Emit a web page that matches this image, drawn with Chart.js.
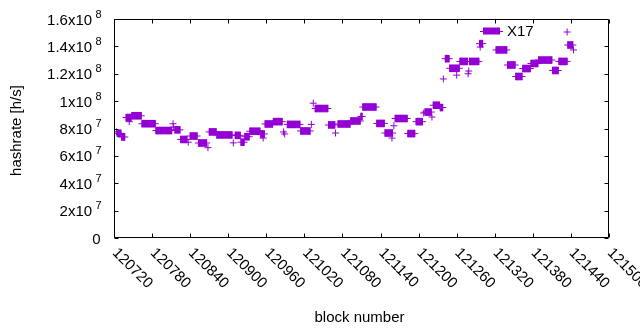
<!DOCTYPE html>
<html><head><meta charset="utf-8">
<script src="https://cdn.jsdelivr.net/npm/chart.js@4/dist/chart.umd.min.js"></script>
<style>html,body{margin:0;padding:0;background:#fff}#wrap{width:640px;height:330px}</style>
</head><body><div id="wrap"><canvas id="c" width="640" height="330"></canvas></div>
<script>
const seriesName = 'X17';
const xTitle = 'block number';
const yTitle = 'hashrate [h/s]';

// runs of consecutive blocks that share one hashrate estimate (h/s)
const runStartBlock = [120725,120732,120739,120748,120764,120786,120816,120825,120840,120853,120870,120882,120911,120920,120926,120934,120951,120958,120971,120993,121014,121037,121058,121073,121093,121109,121112,121134,121147,121163,121183,121196,121210,121223,121234,121242,121249,121265,121280,121296,121322,121340,121353,121364,121377,121389,121411,121421,121435];
const runEndBlock   = [120731,120737,120747,120763,120785,120811,120824,120835,120851,120866,120881,120906,120919,120925,120933,120950,120957,120970,120985,121013,121029,121057,121068,121092,121108,121111,121133,121146,121159,121182,121194,121206,121220,121233,121238,121248,121264,121277,121295,121301,121339,121352,121363,121376,121388,121410,121420,121434,121443];
const runHashrate   = [76.5e6,73.8e6,88e6,89.3e6,83.5e6,78.5e6,79e6,72e6,74.5e6,69.4e6,77.5e6,75.3e6,75e6,70e6,74e6,78e6,76e6,83.3e6,85e6,83e6,78.2e6,94.6e6,82.6e6,83.3e6,85.5e6,88.8e6,95.7e6,83.7e6,76.7e6,87.3e6,76.3e6,85e6,92e6,97e6,95.3e6,131e6,124e6,129e6,129e6,142e6,137.4e6,126.4e6,118e6,123.8e6,127.5e6,130e6,122.4e6,129e6,141e6];

// isolated blocks
const singleBlock    = [120724,120744,120813,120814,120837,120868,120908,120955,120987,120989,121031,121034,121069,121158,121161,121208,121221,121239,121260,121278,121279,121297,121434,121444];
const singleHashrate = [77.5e6,85e6,83.5e6,81e6,70e6,66e6,69.5e6,73e6,77.5e6,76e6,83e6,98.5e6,76.7e6,73e6,82e6,91.3e6,88.4e6,116.2e6,119e6,120e6,122e6,139.5e6,150.5e6,137.4e6];

const xTickValues = [120720,120780,120840,120900,120960,121020,121080,121140,121200,121260,121320,121380,121440,121500];
const xTickLabels = ['120720','120780','120840','120900','120960','121020','121080','121140','121200','121260','121320','121380','121440','121500'];
const yTickValues   = [0,2e7,4e7,6e7,8e7,1e8,1.2e8,1.4e8,1.6e8];
const yTickMantissa = ['0','2x10','4x10','6x10','8x10','1x10','1.2x10','1.4x10','1.6x10'];
const yTickExponent = ['','7','7','7','7','8','8','8','8'];

const COLOR = '#9400D3';
const FONT = '"Liberation Sans", Arial, sans-serif';

const runBars = runStartBlock.map((s, i) => ({ x: [s, runEndBlock[i]], y: runHashrate[i] }));
const crossPts = singleBlock.map((b, i) => ({ x: b, y: singleHashrate[i] }))
  .concat(runStartBlock.map((s, i) => ({ x: s, y: runHashrate[i] })))
  .concat(runEndBlock.map((e, i) => ({ x: e, y: runHashrate[i] })));

const gnuFrame = {
  id: 'gnuFrame',
  afterDatasetsDraw(chart) {
    const { ctx, chartArea: a, scales: { x, y } } = chart;
    ctx.save();
    ctx.strokeStyle = '#000';
    ctx.lineWidth = 1;
    const L = Math.round(a.left) + 0.5, R = Math.round(a.right) - 0.5;
    const T = Math.round(a.top) + 0.5, B = Math.round(a.bottom) - 0.5;
    ctx.beginPath();
    ctx.rect(L, T, R - L, B - T);
    xTickValues.forEach(v => {
      const px = Math.round(x.getPixelForValue(v)) + 0.5;
      ctx.moveTo(px, B); ctx.lineTo(px, B - 4);
      ctx.moveTo(px, T); ctx.lineTo(px, T + 4);
    });
    yTickValues.forEach(v => {
      const py = Math.round(y.getPixelForValue(v)) + 0.5;
      ctx.moveTo(L, py); ctx.lineTo(L + 4, py);
      ctx.moveTo(R, py); ctx.lineTo(R - 4, py);
    });
    ctx.stroke();

    ctx.fillStyle = '#000';
    // y tick labels with raised exponent
    yTickValues.forEach((v, i) => {
      const py = y.getPixelForValue(v);
      const right = a.left - 12.5;
      const exp = yTickExponent[i];
      let mainRight = right - 1;
      if (exp) {
        ctx.font = '11px ' + FONT;
        const ew = ctx.measureText(exp).width;
        ctx.textAlign = 'right';
        ctx.textBaseline = 'alphabetic';
        ctx.fillText(exp, right, py - 1.5);
        mainRight = right - ew - 3.3;
      }
      ctx.font = '15px ' + FONT;
      ctx.textAlign = 'right';
      ctx.textBaseline = 'alphabetic';
      ctx.fillText(yTickMantissa[i], mainRight, py + 5.5);
    });
    // x tick labels rotated 45 deg clockwise
    ctx.font = '15px ' + FONT;
    xTickValues.forEach((v, i) => {
      const px = x.getPixelForValue(v);
      ctx.save();
      ctx.translate(px + 2, a.bottom + 14);
      ctx.rotate(Math.PI / 4);
      ctx.textAlign = 'left';
      ctx.textBaseline = 'middle';
      ctx.fillText(xTickLabels[i], -2, 0);
      ctx.restore();
    });
    // axis titles
    ctx.textAlign = 'center';
    ctx.textBaseline = 'alphabetic';
    ctx.fillText(xTitle, (a.left + a.right) / 2 - 2, 322);
    ctx.save();
    ctx.translate(21, (a.top + a.bottom) / 2 + 2);
    ctx.rotate(-Math.PI / 2);
    ctx.textAlign = 'center';
    ctx.fillText(yTitle, 0, 0);
    ctx.restore();

    // key
    const sR = a.right - 106, sY = a.top + 12;
    ctx.fillStyle = COLOR;
    ctx.fillRect(sR - 20, sY - 3.5, 17, 7);
    ctx.strokeStyle = COLOR;
    ctx.beginPath();
    ctx.moveTo(sR - 23, sY + 0.5); ctx.lineTo(sR, sY + 0.5);
    ctx.stroke();
    ctx.fillStyle = '#000';
    ctx.font = '15px ' + FONT;
    ctx.textAlign = 'left';
    ctx.textBaseline = 'middle';
    ctx.fillText(chart.data.datasets[0].label, sR + 4, sY + 1);
    ctx.restore();
  }
};

new Chart(document.getElementById('c'), {
  type: 'scatter',
  data: {
    datasets: [
      { type: 'bar', label: seriesName, indexAxis: 'y', data: runBars, backgroundColor: COLOR,
        borderWidth: 0, barThickness: 7, grouped: false, xAxisID: 'x', yAxisID: 'y' },
      { type: 'scatter', label: seriesName, data: crossPts, pointStyle: 'cross', pointRadius: 3.5,
        pointHoverRadius: 3.5, borderColor: COLOR, backgroundColor: COLOR, borderWidth: 1,
        xAxisID: 'x', yAxisID: 'y' }
    ]
  },
  options: {
    responsive: false,
    animation: false,
    devicePixelRatio: 1,
    layout: { padding: { left: 0, right: 31, top: 19, bottom: 0 } },
    plugins: { legend: { display: false }, tooltip: { enabled: false } },
    scales: {
      x: { type: 'linear', position: 'bottom', min: 120720, max: 121500, offset: false,
           ticks: { display: false, stepSize: 60 }, grid: { display: false, offset: false }, border: { display: false },
           afterFit(s) { s.height = 92; } },
      y: { type: 'linear', position: 'left', min: 0, max: 1.6e8, offset: false,
           ticks: { display: false, stepSize: 2e7 }, grid: { display: false, offset: false }, border: { display: false },
           afterFit(s) { s.width = 114; } }
    }
  },
  plugins: [gnuFrame]
});
</script>
</body></html>
